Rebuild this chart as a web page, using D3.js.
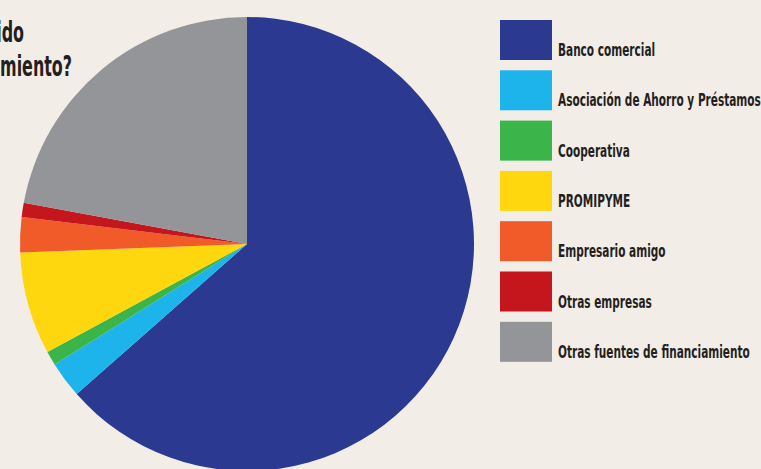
<!DOCTYPE html>
<html>
<head>
<meta charset="utf-8">
<script src="https://cdn.jsdelivr.net/npm/d3@7"></script>
<style>
  html, body { margin: 0; padding: 0; background: #f3ede8; overflow: hidden; }
  svg { display: block; }
  text { font-family: "Liberation Sans Narrow", "DejaVu Sans Condensed", sans-serif; font-weight: bold; fill: #231f20; }
</style>
</head>
<body>
<div id="chart"></div>
<script>
(function () {
  const categories = [
    "Banco comercial",
    "Asociación de Ahorro y Préstamos",
    "Cooperativa",
    "PROMIPYME",
    "Empresario amigo",
    "Otras empresas",
    "Otras fuentes de financiamiento"
  ];
  const shares = [63.5, 2.6, 1.0, 7.3, 2.5, 1.0, 22.1];
  const colors = ["#2b3990", "#1cb4eb", "#3bb54a", "#ffd70f", "#f15a29", "#c4161c", "#939598"];
  const titleLines = ["¿De dónde ha obtenido", "financiamiento?"];

  const W = 761, H = 469;
  const cx = 247, cy = 244, r = 227;

  const svg = d3.select("#chart").append("svg")
    .attr("width", W)
    .attr("height", H);

  svg.append("rect")
    .attr("width", W).attr("height", H)
    .attr("fill", "#f3ede8");

  const data = categories.map((c, i) => ({ name: c, value: shares[i], color: colors[i] }));

  // Pie: clockwise from 12 o'clock, same order as legend
  const pie = d3.pie().value(d => d.value).sort(null);
  const arc = d3.arc().innerRadius(0).outerRadius(r);

  svg.append("g")
    .attr("transform", `translate(${cx},${cy})`)
    .selectAll("path")
    .data(pie(data))
    .join("path")
    .attr("d", arc)
    .attr("fill", d => d.data.color);

  // Title (runs off the left edge, as in the source)
  const tl = svg.append("g").selectAll("text")
    .data(titleLines)
    .join("text")
    .attr("text-anchor", "end")
    .style("font-size", "28px")
    .text(d => d);
  const titleEnds = [24, 72];
  const titleBase = [42, 76];
  // squeeze to the condensed look of the original
  const tmp = svg.append("text").style("font-size", "28px").text("miento?");
  const tsx = 72 / tmp.node().getComputedTextLength();
  tmp.remove();
  tl.attr("transform", (d, i) => `translate(${titleEnds[i]},${titleBase[i]}) scale(${tsx},1)`);

  // Legend
  const lx = 500, ly = 20, step = 50.3, sw = 52, sh = 40;
  const items = svg.append("g").selectAll("g")
    .data(data)
    .join("g")
    .attr("transform", (d, i) => `translate(${lx},${ly + i * step})`);

  items.append("rect")
    .attr("width", sw)
    .attr("height", sh)
    .attr("fill", d => d.color);

  const labels = items.append("text")
    .style("font-size", "18px")
    .text(d => d.name);

  const longest = labels.filter((d, i) => i === 1).node().getComputedTextLength();
  const sx = 203 / longest;
  labels.attr("transform", `translate(58,${sh - 4}) scale(${sx},1)`);
})();
</script>
</body>
</html>
